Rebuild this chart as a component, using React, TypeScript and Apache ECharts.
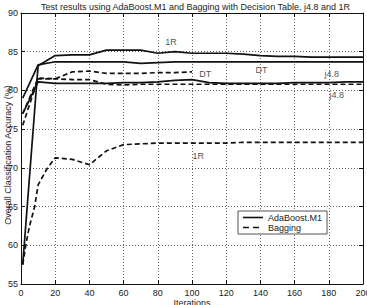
import React, { useEffect, useRef } from "react";
import * as echarts from "echarts";

const iterations = [1, 10, 20, 30, 40, 50, 60, 70, 80, 90, 100, 110, 120, 130, 140, 150, 160, 170, 180, 190, 200];
const adaBoost1R = [57.5, 83.2, 84.5, 84.6, 84.6, 85.2, 85.2, 85.2, 84.8, 85.0, 84.8, 84.8, 84.8, 84.7, 84.5, 84.4, 84.4, 84.3, 84.3, 84.3, 84.3];
const adaBoostDT = [79.0, 83.3, 83.7, 83.7, 83.7, 83.7, 83.7, 83.5, 83.6, 83.7, 83.7, 83.7, 83.7, 83.7, 83.7, 83.7, 83.7, 83.7, 83.7, 83.7, 83.7];
const adaBoostJ48 = [77.0, 81.1, 80.9, 80.9, 80.9, 80.9, 81.0, 81.0, 81.1, 81.3, 81.4, 81.0, 80.9, 80.9, 80.9, 80.9, 81.0, 81.0, 81.0, 81.1, 81.1];
const baggingDTIter = [1, 10, 20, 30, 40, 50, 60, 70, 80, 90, 100];
const baggingDT = [77.0, 81.6, 81.5, 82.4, 82.5, 82.2, 82.2, 82.2, 82.3, 82.3, 82.4];
const baggingJ48 = [75.5, 81.5, 81.5, 81.4, 81.4, 80.8, 80.7, 80.8, 80.8, 80.8, 80.8, 80.8, 80.8, 80.8, 80.8, 80.8, 80.8, 80.8, 80.8, 80.8, 80.8];
const bagging1RIter = [1, 3, 5, 8, 10, 15, 20, 30, 40, 50, 60, 70, 80, 90, 100, 110, 120, 130, 140, 150, 160, 170, 180, 190, 200];
const bagging1R = [57.5, 60.3, 62.5, 65.0, 67.8, 69.8, 71.3, 71.1, 70.4, 72.2, 73.0, 73.1, 73.2, 73.2, 73.2, 73.2, 73.2, 73.3, 73.3, 73.3, 73.3, 73.3, 73.3, 73.3, 73.3];

const xTicks = { min: 0, max: 200, interval: 20 };
const yTicks = { min: 55, max: 90, interval: 5 };

const annotationText = ["1R", "DT", "DT", "j4.8", "j4.8", "1R"];
const annotationX = [88, 108, 141, 182, 185, 104];
const annotationY = [86.2, 82.1, 82.6, 82.0, 79.4, 71.5];

const pairs = (xs: number[], ys: number[]) => ys.map((y, i) => [xs[i], y]);

export default function App() {
  const ref = useRef<HTMLDivElement>(null);
  useEffect(() => {
    if (!ref.current) return;
    const chart = echarts.init(ref.current, undefined, { renderer: "svg" });
    const font = "'Liberation Sans', Arial, sans-serif";
    const solid = { color: "#111", width: 1.7, type: "solid" as const };
    const dashed = { color: "#111", width: 1.7, type: [5, 3] as any };
    const mk = (name: string, data: number[][], ls: any) => ({
      name,
      type: "line",
      data,
      showSymbol: false,
      symbol: "none",
      lineStyle: ls,
      itemStyle: { color: "#111" },
      xAxisIndex: 0,
      yAxisIndex: 0,
      silent: true,
      z: 3,
    });
    const axisBase = {
      axisLine: { show: true, onZero: false, lineStyle: { color: "#111", width: 1 } },
      axisTick: { show: true, inside: true, length: 4, lineStyle: { color: "#111" } },
    };
    const solidIcon = "path://M0,0H20V1.6H0Z";
    const dashedIcon = "path://M0,0H6V1.6H0Z M10,0H16V1.6H10Z M20,0H20.01V1.6H20Z";
    chart.setOption({
      animation: false,
      backgroundColor: "#fff",
      color: ["#111", "#111", "#111", "#111", "#111", "#111", "#222"],
      textStyle: { fontFamily: font },
      title: {
        text: "Test results using AdaBoost.M1 and Bagging with Decision Table, j4.8 and 1R",
        left: 36,
        top: -3,
        textStyle: { fontSize: 9, fontWeight: "normal", color: "#222", fontFamily: font },
      },
      graphic: [
        {
          type: "text",
          x: 8,
          y: 155,
          rotation: Math.PI / 2,
          style: {
            text: "Overall Classification Accuracy (%)",
            fontSize: 9,
            fill: "#222",
            fontFamily: font,
            align: "center",
            verticalAlign: "middle",
          },
          silent: true,
        },
      ],
      grid: { left: 21, top: 13, right: 4, bottom: 21, outerBoundsMode: "none", containLabel: false },
      legend: {
        data: [
          { name: "AdaBoost.M1", icon: solidIcon },
          { name: "Bagging", icon: dashedIcon },
        ],
        orient: "vertical",
        left: 238,
        top: 211,
        itemWidth: 20,
        itemHeight: 2,
        itemGap: 1,
        padding: [2, 5, 2, 5],
        borderColor: "#555",
        borderWidth: 1,
        borderRadius: 0,
        backgroundColor: "#fff",
        itemStyle: { color: "#111", borderWidth: 0 },
        lineStyle: { width: 0 },
        textStyle: { fontSize: 9, color: "#222", fontFamily: font },
      },
      xAxis: [
        {
          type: "value",
          ...xTicks,
          position: "bottom",
          name: "Iterations",
          nameLocation: "middle",
          nameGap: 14,
          nameMoveOverlap: false,
          nameTextStyle: { fontSize: 9, color: "#222" },
          ...axisBase,
          axisLabel: { fontSize: 9, color: "#222", margin: 4 },
          splitLine: { show: true, lineStyle: { color: "#666", type: [1, 2], width: 1 } },
        },
        {
          type: "value",
          ...xTicks,
          position: "top",
          ...axisBase,
          axisLabel: { show: false },
          splitLine: { show: false },
        },
      ],
      yAxis: [
        {
          type: "value",
          ...yTicks,
          position: "left",
          ...axisBase,
          axisLabel: { fontSize: 9, color: "#222", margin: 3 },
          splitLine: { show: true, lineStyle: { color: "#666", type: [1, 2], width: 1 } },
        },
        {
          type: "value",
          ...yTicks,
          position: "right",
          ...axisBase,
          axisLabel: { show: false },
          splitLine: { show: false },
        },
      ],
      series: [
        mk("AdaBoost.M1", pairs(iterations, adaBoost1R), solid),
        mk("AdaBoost.M1", pairs(iterations, adaBoostDT), solid),
        mk("AdaBoost.M1", pairs(iterations, adaBoostJ48), solid),
        mk("Bagging", pairs(baggingDTIter, baggingDT), dashed),
        mk("Bagging", pairs(iterations, baggingJ48), dashed),
        mk("Bagging", pairs(bagging1RIter, bagging1R), dashed),
        {
          name: "labels",
          type: "scatter",
          symbol: "circle",
          symbolSize: 1,
          silent: true,
          itemStyle: { color: "rgba(0,0,0,0)" },
          data: annotationText.map((t, i) => ({ name: t, value: [annotationX[i], annotationY[i]] })),
          label: {
            show: true,
            position: [0, 0],
            align: "center",
            verticalAlign: "middle",
            formatter: (p: any) => p.name,
            fontSize: 9,
            color: "#222",
            fontFamily: font,
          },
          z: 5,
        },
      ],
    });
    return () => chart.dispose();
  }, []);
  return <div ref={ref} style={{ width: 367, height: 305, position: "absolute", left: 0, top: 0 }} />;
}
